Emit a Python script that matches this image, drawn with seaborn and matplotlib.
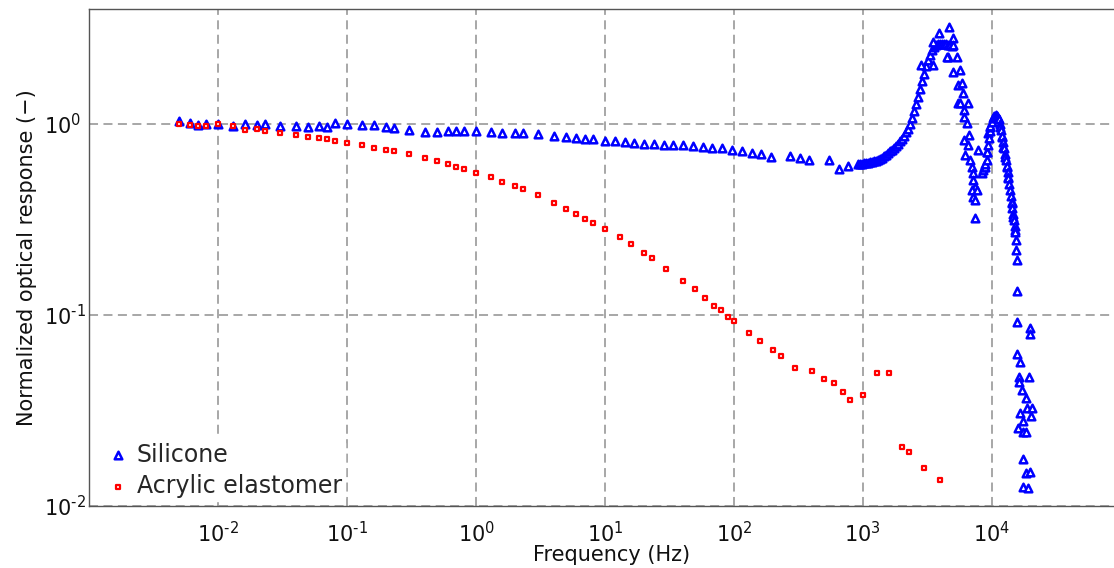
import numpy as np
import pandas as pd
import matplotlib
matplotlib.use("Agg")
import matplotlib.pyplot as plt
import seaborn as sns
from matplotlib.ticker import LogLocator, NullLocator, NullFormatter, FixedLocator, FuncFormatter

# ---------------- data ----------------
# Acrylic elastomer
acr_freq = [0.005, 0.006, 0.007, 0.008, 0.01, 0.013, 0.016, 0.02, 0.023, 0.03,
            0.04, 0.05, 0.06, 0.07, 0.08, 0.1, 0.13, 0.16, 0.2, 0.23,
            0.3, 0.4, 0.5, 0.6, 0.7, 0.8, 1, 1.3, 1.6, 2,
            2.3, 3, 4, 5, 6, 7, 8, 10, 13, 16,
            20, 23, 30, 40, 50, 60, 70, 80, 90, 100,
            130, 160, 200, 230, 300, 400, 500, 600, 700, 800,
            1000, 1300, 1600, 2000, 2300, 3000, 4000]
acr_resp = [1.0, 0.992, 0.98, 0.973, 0.996, 0.973, 0.934, 0.938, 0.922, 0.90,
            0.879, 0.858, 0.842, 0.832, 0.818, 0.798, 0.774, 0.751, 0.733, 0.72,
            0.697, 0.661, 0.638, 0.615, 0.598, 0.581, 0.556, 0.526, 0.499, 0.474,
            0.458, 0.427, 0.387, 0.360, 0.339, 0.318, 0.304, 0.281, 0.255, 0.235,
            0.210, 0.198, 0.174, 0.151, 0.136, 0.1223, 0.112, 0.1067, 0.098, 0.0927,
            0.0802, 0.0733, 0.0656, 0.0612, 0.053, 0.0509, 0.0462, 0.0442, 0.0395, 0.036,
            0.0383, 0.0497, 0.0497, 0.0204, 0.0192, 0.0158, 0.01364]

# Silicone: low-frequency part
sil_freq_low = [0.005, 0.006, 0.007, 0.008, 0.01, 0.013, 0.016, 0.02, 0.023, 0.03,
                0.04, 0.05, 0.06, 0.07, 0.08, 0.1, 0.13, 0.16, 0.2, 0.23,
                0.3, 0.4, 0.5, 0.6, 0.7, 0.8, 1, 1.3, 1.6, 2,
                2.3, 3, 4, 5, 6, 7, 8, 10]
sil_resp_low = [1.04, 1.01, 0.985, 1.0, 1.0, 0.98, 1.0, 0.99, 1.0, 0.98,
                0.973, 0.968, 0.973, 0.96, 1.016, 1.0, 0.99, 0.984, 0.968, 0.953,
                0.93, 0.91, 0.91, 0.92, 0.922, 0.922, 0.915, 0.908, 0.9, 0.897,
                0.894, 0.883, 0.869, 0.858, 0.842, 0.835, 0.832, 0.815]

# Silicone: mid-frequency sweep
sil_freq_mid = [12, 14.2, 16.9, 20.2, 24.1, 28.5, 33.9, 40.5, 48.2, 57.3,
                68, 81.3, 97.2, 115.6, 137, 163, 193, 272, 324, 385,
                543, 650, 772]
sil_resp_mid = [0.812, 0.802, 0.798, 0.789, 0.783, 0.779, 0.779, 0.776, 0.767, 0.755,
                0.751, 0.749, 0.728, 0.719, 0.705, 0.694, 0.672, 0.682, 0.664, 0.648,
                0.646, 0.583, 0.603]

# Silicone: first resonance (rising flank and top)
sil_freq_res1 = [918, 951, 986, 1022, 1059, 1097, 1137, 1178, 1221, 1266,
                 1312, 1359, 1409, 1460, 1513, 1568, 1626, 1685, 1746, 1809,
                 1875, 1943, 2014, 2087, 2163, 2242, 2323, 2408, 2495, 2586,
                 2680, 2777, 2878, 2983, 3091, 3203, 3320, 3441, 3566, 3695,
                 3829, 3968, 4113, 4263, 4418, 4578, 4745, 4917]
sil_resp_res1 = [0.621, 0.621, 0.621, 0.623, 0.625, 0.627, 0.630, 0.634, 0.639, 0.644,
                 0.650, 0.657, 0.665, 0.676, 0.688, 0.703, 0.718, 0.733, 0.749, 0.767,
                 0.786, 0.810, 0.835, 0.865, 0.903, 0.947, 1.0, 1.075, 1.163, 1.265,
                 1.385, 1.525, 1.679, 1.838, 2.012, 2.163, 2.311, 2.440, 2.530, 2.577,
                 2.608, 2.624, 2.624, 2.624, 2.608, 2.593, 2.577, 2.562]

# Silicone: scatter around the first peak and its falling flank
sil_freq_fall1 = [3485, 3900, 4690, 4982, 4581, 5351, 5035, 3524, 2828, 5035,
                  5507, 5507, 4477, 5677, 5853, 6022, 5677, 6584, 6098, 6098,
                  6400, 6703, 6098, 6584, 6208, 6786, 6996, 7121, 7199, 7421,
                  6996, 7650, 7199, 7421, 7421]
sil_resp_fall1 = [2.697, 2.985, 3.232, 2.810, 2.251, 2.251, 2.593, 2.036, 2.036, 1.879,
                  1.601, 1.284, 2.251, 1.918, 1.634, 1.448, 1.284, 1.284, 1.184, 1.092,
                  1.008, 0.876, 0.825, 0.776, 0.688, 0.648, 0.598, 0.552, 0.509, 0.469,
                  0.451, 0.451, 0.416, 0.400, 0.321]

# Silicone: second resonance
sil_freq_res2 = [7870, 8363, 8560, 8762, 8872, 8952, 9146, 9146, 9277, 9410,
                 9410, 9528, 9650, 9701, 9788, 10000, 10230, 10420, 10510, 10800,
                 11090, 11250, 11390, 11600, 11600, 11810, 11960, 12020, 12230, 12300,
                 12460, 12680, 12680, 12910, 13070, 13100, 13290, 13450, 13470, 13670,
                 13870, 14070, 14270, 14300, 14470, 14680, 14710, 14890, 15080, 15170,
                 15250, 15440, 15570, 15630]
sil_resp_res2 = [0.731, 0.552, 0.574, 0.596, 0.598, 0.621, 0.648, 0.716, 0.714, 0.776,
                 0.894, 0.845, 0.919, 0.968, 0.976, 1.028, 1.069, 1.092, 1.101, 1.115,
                 1.101, 1.071, 1.056, 1.0, 0.968, 0.930, 0.858, 0.865, 0.805, 0.760,
                 0.749, 0.696, 0.674, 0.648, 0.598, 0.603, 0.561, 0.530, 0.521, 0.485,
                 0.451, 0.420, 0.390, 0.384, 0.363, 0.338, 0.327, 0.3145, 0.292, 0.279,
                 0.272, 0.247, 0.219, 0.194]

# Silicone: high-frequency tail
sil_freq_tail = [15800, 15630, 19820, 19820, 15800, 16580, 19570, 16200, 16380, 17090,
                 18360, 18690, 20430, 16580, 20180, 17590, 15910, 17590, 18360, 17590,
                 18360, 19820, 17590, 19020]
sil_resp_tail = [0.1335, 0.0922, 0.0858, 0.0792, 0.0625, 0.0569, 0.0475, 0.0475, 0.0448, 0.0405,
                 0.0369, 0.0327, 0.0327, 0.0306, 0.0296, 0.0280, 0.0255, 0.0245, 0.0245, 0.01756,
                 0.01483, 0.01501, 0.01262, 0.01247]

x_ticks = [1e-2, 1e-1, 1e0, 1e1, 1e2, 1e3, 1e4]
y_ticks = [1e-2, 1e-1, 1e0]
x_label = "Frequency (Hz)"
y_label = "Normalized optical response (\u2212)"
series_names = ["Silicone", "Acrylic elastomer"]

# ---------------- build tables ----------------
sil = pd.DataFrame({
    "freq": sil_freq_low + sil_freq_mid + sil_freq_res1 + sil_freq_fall1 + sil_freq_res2 + sil_freq_tail,
    "resp": sil_resp_low + sil_resp_mid + sil_resp_res1 + sil_resp_fall1 + sil_resp_res2 + sil_resp_tail,
})
acr = pd.DataFrame({"freq": acr_freq, "resp": acr_resp})

# ---------------- plot ----------------
sns.set_theme(style="white")
plt.rcParams["font.family"] = ["DejaVu Sans"]

fig = plt.figure(figsize=(11.14, 5.68), dpi=100)
ax = fig.add_axes([0.08025, 0.10915, 0.92567, 0.875])

sns.scatterplot(data=sil, x="freq", y="resp", ax=ax, marker="^", s=30,
                color="white", edgecolor="#0000ff", linewidth=1.8,
                label=series_names[0], zorder=3)
sns.scatterplot(data=acr, x="freq", y="resp", ax=ax, marker="s", s=11,
                color="white", edgecolor="#ff0000", linewidth=1.6,
                label=series_names[1], zorder=4)

ax.set_xscale("log")
ax.set_yscale("log")
ax.set_xlim(1e-3, 1e5)
ax.set_ylim(1e-2, 4.0)


def pow10_label(v, pos=None):
    e = int(round(np.log10(v)))
    if e < 0:
        return r"$10^{\text{-}%d}$" % (-e)
    return r"$10^{%d}$" % e


ax.xaxis.set_major_locator(FixedLocator(x_ticks))
ax.xaxis.set_major_formatter(FuncFormatter(pow10_label))
ax.xaxis.set_minor_locator(NullLocator())
ax.yaxis.set_major_locator(FixedLocator(y_ticks))
ax.yaxis.set_major_formatter(FuncFormatter(pow10_label))
ax.yaxis.set_minor_locator(LogLocator(base=10, subs=np.arange(2, 10), numticks=20))
ax.yaxis.set_minor_formatter(NullFormatter())

ax.grid(True, which="major", color="#a0a0a0", linestyle=(0, (5, 3)), linewidth=1.3)
ax.set_axisbelow(True)

ax.tick_params(axis="both", which="both", direction="in", colors="#444444",
               labelcolor="#111111", labelsize=15)
ax.tick_params(axis="x", which="major", length=0, pad=11)
ax.tick_params(axis="y", which="major", length=0, pad=33)
ax.tick_params(axis="y", which="minor", length=5, width=1)
for lab in ax.get_yticklabels():
    lab.set_horizontalalignment("left")

for side in ["left", "bottom", "top"]:
    ax.spines[side].set_visible(True)
    ax.spines[side].set_color("#555555")
    ax.spines[side].set_linewidth(1.0)
ax.spines["right"].set_visible(False)

ax.set_xlabel(x_label, fontsize=15, color="#111111")
ax.xaxis.set_label_coords(0.506, -0.079)
ax.set_ylabel(y_label, fontsize=15, color="#111111")
ax.yaxis.set_label_coords(-0.051, 0.5)

leg = ax.legend(loc="lower left", bbox_to_anchor=(0.0058, 0.0), fontsize=17,
                frameon=True, framealpha=1.0, facecolor="white", edgecolor="white",
                markerscale=1.0, handletextpad=0.2, borderaxespad=0.2,
                borderpad=0.15, labelspacing=0.3, handlelength=1.2)

fig.savefig("out.png", dpi=100)
